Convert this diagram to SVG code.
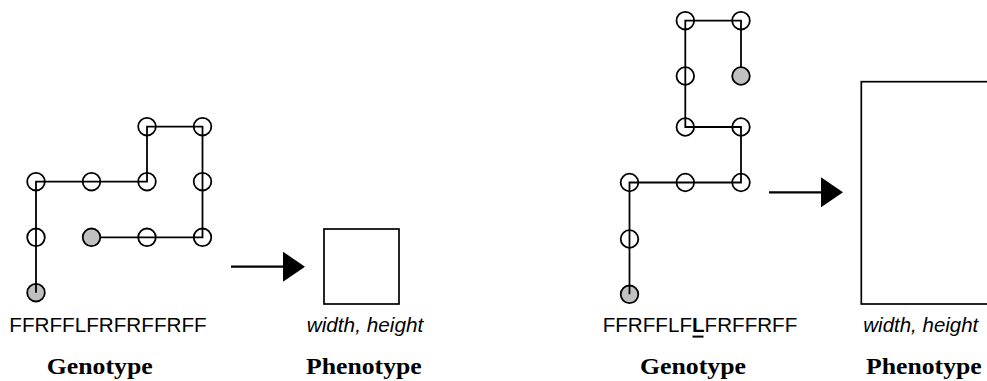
<svg xmlns="http://www.w3.org/2000/svg" width="987" height="381" viewBox="0 0 987 381">
  <style>
    .bond { fill: none; stroke: #000; stroke-width: 1.8; stroke-linecap: butt; stroke-linejoin: miter; }
    .res { fill: #fff; stroke: #000; stroke-width: 1.8; }
    .res.h { fill: #c0c0c0; }
    .box { fill: #fff; stroke: #000; stroke-width: 1.7; }
    .arrow { stroke: #000; stroke-width: 2.2; }
    .seq { font-family: "Liberation Sans", Arial, sans-serif; font-size: 20px; fill: #000; }
    .dim { font-family: "Liberation Sans", Arial, sans-serif; font-size: 20px; font-style: italic; fill: #000; }
    .title { font-family: "Liberation Serif", "Times New Roman", serif; font-size: 24px; font-weight: bold; fill: #000; }
  </style>
  <defs>
    <marker id="head" markerWidth="22" markerHeight="30" refX="0" refY="15" orient="auto" markerUnits="userSpaceOnUse">
      <path d="M0,0 L22,15 L0,30 Z" fill="#000"/>
    </marker>
  </defs>
  <rect width="987" height="381" fill="#fff"/>

  <!-- first folding: residues -->
  <g id="fold-a">
    <circle class="res h" cx="36" cy="292.7" r="8.8"/>
    <circle class="res" cx="36" cy="237.3" r="8.8"/>
    <circle class="res" cx="36" cy="181.7" r="8.8"/>
    <circle class="res" cx="91.5" cy="181.7" r="8.8"/>
    <circle class="res" cx="147" cy="181.7" r="8.8"/>
    <circle class="res" cx="147" cy="126.7" r="8.8"/>
    <circle class="res" cx="202.5" cy="126.7" r="8.8"/>
    <circle class="res" cx="202.5" cy="181.7" r="8.8"/>
    <circle class="res" cx="202.5" cy="237.3" r="8.8"/>
    <circle class="res" cx="147" cy="237.3" r="8.8"/>
  </g>

  <!-- second folding: residues -->
  <g id="fold-b">
    <circle class="res h" cx="629.5" cy="294.3" r="8.8"/>
    <circle class="res" cx="629.5" cy="239" r="8.8"/>
    <circle class="res" cx="629.5" cy="182.5" r="8.8"/>
    <circle class="res" cx="685.3" cy="182.5" r="8.8"/>
    <circle class="res" cx="741" cy="182.5" r="8.8"/>
    <circle class="res" cx="741" cy="127" r="8.8"/>
    <circle class="res" cx="685.3" cy="127" r="8.8"/>
    <circle class="res" cx="685.3" cy="76" r="8.8"/>
    <circle class="res" cx="685.3" cy="20.7" r="8.8"/>
    <circle class="res" cx="741" cy="20.7" r="8.8"/>
  </g>

  <!-- backbone chains and genotype-to-phenotype arrows -->
  <g id="connectors">
    <polyline class="bond" points="36,292.7 36,237.3 36,181.7 91.5,181.7 147,181.7 147,126.7 202.5,126.7 202.5,181.7 202.5,237.3 147,237.3 91.5,237.3"/>
    <polyline class="bond" points="629.5,294.3 629.5,239 629.5,182.5 685.3,182.5 741,182.5 741,127 685.3,127 685.3,76 685.3,20.7 741,20.7 741,76"/>
    <line class="arrow" x1="231" y1="266.7" x2="283" y2="266.7" marker-end="url(#head)"/>
    <line class="arrow" x1="769" y1="192.3" x2="821" y2="192.3" marker-end="url(#head)"/>
  </g>

  <!-- chain ends -->
  <g id="end-a">
    <circle class="res h" cx="91.5" cy="237.3" r="8.8"/>
  </g>
  <g id="end-b">
    <circle class="res h" cx="741" cy="76" r="8.8"/>
  </g>

  <!-- phenotype boxes -->
  <g id="pheno-a">
    <rect class="box" x="324" y="229" width="75" height="75"/>
  </g>
  <g id="pheno-b">
    <rect class="box" x="861.3" y="81.7" width="140" height="222.3"/>
  </g>

  <!-- labels -->
  <g id="labels-a">
    <text class="seq" x="9.3" y="332.3" textLength="197.4" lengthAdjust="spacingAndGlyphs">FFRFFLFRFRFFRFF</text>
    <text class="dim" x="306.7" y="332" textLength="116.6" lengthAdjust="spacingAndGlyphs">width, height</text>
    <text class="title" x="46.7" y="373.5" textLength="106" lengthAdjust="spacingAndGlyphs">Genotype</text>
    <text class="title" x="306" y="373.5" textLength="115.7" lengthAdjust="spacingAndGlyphs">Phenotype</text>
  </g>
  <g id="labels-b">
    <text class="seq" x="602.7" y="332.3" textLength="194.6" lengthAdjust="spacingAndGlyphs">FFRFFLF<tspan font-weight="bold">L</tspan>FRFFRFF</text>
    <line x1="692.5" y1="336.6" x2="703.5" y2="336.6" stroke="#000" stroke-width="2"/>
    <text class="dim" x="863.3" y="332" textLength="115" lengthAdjust="spacingAndGlyphs">width, height</text>
    <text class="title" x="640" y="373.5" textLength="106" lengthAdjust="spacingAndGlyphs">Genotype</text>
    <text class="title" x="866" y="373.5" textLength="115.7" lengthAdjust="spacingAndGlyphs">Phenotype</text>
  </g>
</svg>
